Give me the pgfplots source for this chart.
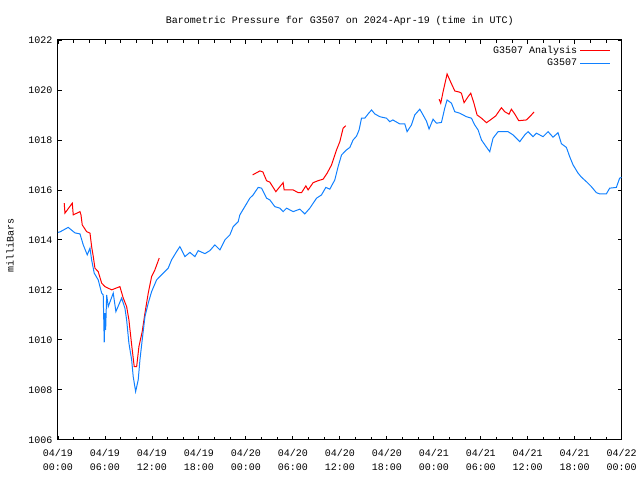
\documentclass[border=0pt]{standalone}
\usepackage{fontspec}
\setmainfont{Liberation Mono}
\usepackage{pgfplots}
\pgfplotsset{compat=1.18}
\definecolor{gred}{RGB}{255,0,0}
\definecolor{gblue}{RGB}{16,128,255}
\begin{document}
\begin{tikzpicture}
\fontsize{7.5}{10.5}\selectfont
\begin{axis}[
  at={(0,0)}, anchor=south west,
  scale only axis, width=423pt, height=300pt,
  xmin=0, xmax=72, ymin=1006, ymax=1022,
  xtick={0,6,...,72},
  minor x tick num=2,
  ytick={1006,1008,...,1022},
  xticklabels={{04/19\\00:00},{04/19\\06:00},{04/19\\12:00},{04/19\\18:00},{04/20\\00:00},{04/20\\06:00},{04/20\\12:00},{04/20\\18:00},{04/21\\00:00},{04/21\\06:00},{04/21\\12:00},{04/21\\18:00},{04/22\\00:00}},
  yticklabel={\pgfmathprintnumber[fixed,1000 sep={}]{\tick}},
  /pgf/number format/assume math mode=true,
  tick align=inside,
  major tick length=3pt, minor tick length=2pt,
  tick style={black, line width=0.6pt},
  axis line style={black, line width=0.75pt},
  xticklabel style={align=center, font=\fontsize{7.5}{10.5}\selectfont, yshift=-4.75pt},
  yticklabel style={font=\fontsize{7.5}{9}\selectfont, xshift=-1.5pt},
  title={Barometric Pressure for G3507 on 2024-Apr-19 (time in UTC)},
  title style={at={(0.5,1)}, anchor=center, yshift=8.25pt, font=\fontsize{7.5}{9}\selectfont},
  ylabel={milliBars},
  ylabel style={at={(axis description cs:0,0.5)}, anchor=center, yshift=36pt, xshift=-4pt, font=\fontsize{7.5}{9}\selectfont},
  legend style={at={(1,1)}, anchor=north east, draw=none, fill=none, xshift=-7.5pt, yshift=-1.5pt,
     font=\fontsize{7.5}{9}\selectfont, legend cell align=right, row sep=-1pt, inner sep=1pt},
  legend plot pos=right,
  legend image code/.code={\draw[#1] (0pt,0pt) -- (22pt,0pt);},
  unbounded coords=jump,
]
\addplot[gred, line width=0.75pt, mark=none] coordinates {
(0.80,1015.47) (0.89,1015.07) (1.83,1015.47) (1.95,1015.0) (2.81,1015.13) (2.94,1015.0)
(3.10,1014.6) (3.66,1014.33) (4.09,1014.27) (4.30,1013.73) (4.51,1013.33) (4.72,1012.87)
(5.14,1012.73) (5.58,1012.27) (6.00,1012.13) (6.86,1012.0) (7.91,1012.13) (8.34,1011.67)
(8.77,1011.33) (9.06,1010.8) (9.41,1009.8) (9.74,1008.93) (10.05,1008.93) (10.34,1009.73)
(10.76,1010.33) (11.11,1011.07) (11.53,1011.87) (11.96,1012.53) (12.38,1012.8) (12.93,1013.27)
(18,nan)
(24.86,1016.6) (25.79,1016.76) (26.17,1016.72) (26.64,1016.37) (27.06,1016.31) (27.83,1015.93)
(28.34,1016.13) (28.76,1016.29) (28.89,1016.0) (30.04,1016.0) (30.68,1015.89) (31.11,1015.89)
(31.66,1016.16) (31.95,1016.0) (32.59,1016.29) (33.23,1016.37) (33.87,1016.43) (34.38,1016.67)
(34.94,1017.0) (35.58,1017.6) (36.00,1017.93) (36.42,1018.47) (36.77,1018.57)
(42,nan)
(48.68,1019.63) (48.89,1019.47) (49.19,1019.93) (49.70,1020.64) (50.04,1020.4) (50.68,1019.96)
(51.32,1019.91) (51.53,1019.87) (51.87,1019.49) (52.38,1019.73) (52.72,1019.87) (53.11,1019.49)
(53.53,1019.0) (54.09,1018.87) (54.73,1018.69) (55.36,1018.83) (55.91,1018.96) (56.64,1019.29)
(57.06,1019.13) (57.61,1019.03) (57.91,1019.23) (58.34,1019.04) (58.85,1018.77) (59.83,1018.8)
(60.26,1018.93) (60.81,1019.12)
};
\addlegendentry{G3507 Analysis}
\addplot[gblue, line width=0.75pt, mark=none] coordinates {
(0.00,1014.3) (0.26,1014.32) (1.31,1014.5) (2.17,1014.28) (2.81,1014.24) (3.23,1013.8)
(3.74,1013.4) (4.09,1013.67) (4.30,1013.2) (4.63,1012.67) (5.14,1012.4) (5.58,1011.87)
(5.78,1011.8) (5.91,1009.9) (6.00,1011.07) (6.09,1010.4) (6.22,1011.8) (6.42,1011.33)
(7.06,1011.87) (7.40,1011.13) (8.13,1011.67) (8.55,1011.27) (8.77,1010.8) (9.06,1009.87)
(9.41,1009.2) (9.61,1008.53) (9.92,1007.93) (10.25,1008.4) (10.47,1009.2) (10.76,1010.0)
(11.11,1010.93) (11.53,1011.47) (11.96,1011.93) (12.60,1012.4) (13.44,1012.67) (14.08,1012.87)
(14.51,1013.2) (15.15,1013.53) (15.57,1013.73) (16.00,1013.47) (16.21,1013.33) (16.85,1013.5)
(17.49,1013.33) (17.91,1013.57) (18.77,1013.45) (19.40,1013.57) (20.04,1013.8) (20.68,1013.6)
(21.32,1014.0) (21.96,1014.2) (22.38,1014.53) (23.02,1014.73) (23.23,1015.0) (24.51,1015.67)
(24.93,1015.8) (25.57,1016.1) (26.00,1016.07) (26.64,1015.67) (27.06,1015.6) (27.70,1015.33)
(28.34,1015.27) (28.76,1015.13) (29.20,1015.27) (30.04,1015.13) (30.89,1015.23) (31.53,1015.04)
(32.17,1015.27) (33.03,1015.67) (33.66,1015.8) (34.21,1016.1) (34.72,1016.03) (35.36,1016.4)
(35.78,1016.93) (36.22,1017.4) (36.85,1017.6) (37.28,1017.7) (37.70,1018.0) (38.13,1018.15)
(38.46,1018.4) (38.77,1018.87) (39.19,1018.87) (39.61,1019.04) (40.05,1019.2) (40.47,1019.04)
(41.11,1018.93) (41.96,1018.87) (42.38,1018.73) (42.77,1018.8) (43.66,1018.64) (44.30,1018.64)
(44.59,1018.33) (45.15,1018.6) (45.57,1019.0) (46.21,1019.23) (46.63,1019.0) (47.07,1018.75)
(47.40,1018.44) (47.91,1018.83) (48.34,1018.67) (48.98,1018.7) (49.40,1019.27) (49.70,1019.6)
(50.26,1019.47) (50.68,1019.13) (51.32,1019.07) (52.17,1018.93) (52.81,1018.87) (53.23,1018.6)
(53.66,1018.4) (54.09,1018.0) (54.73,1017.71) (55.15,1017.53) (55.57,1018.07) (56.21,1018.33)
(57.49,1018.33) (58.13,1018.2) (58.98,1017.93) (59.62,1018.2) (60.04,1018.33) (60.68,1018.13)
(61.11,1018.27) (61.96,1018.13) (62.60,1018.33) (63.23,1018.11) (63.87,1018.29) (64.30,1017.85)
(64.94,1017.7) (65.36,1017.33) (65.79,1017.0) (66.43,1016.67) (66.86,1016.51) (67.49,1016.33)
(68.13,1016.13) (68.77,1015.89) (69.19,1015.84) (70.04,1015.84) (70.47,1016.07) (71.32,1016.1)
(71.74,1016.47) (72.0,1016.5)
};
\addlegendentry{G3507}
\end{axis}
\useasboundingbox (-43.5pt,-30pt) rectangle (436.5pt,330pt);
\end{tikzpicture}
\end{document}
